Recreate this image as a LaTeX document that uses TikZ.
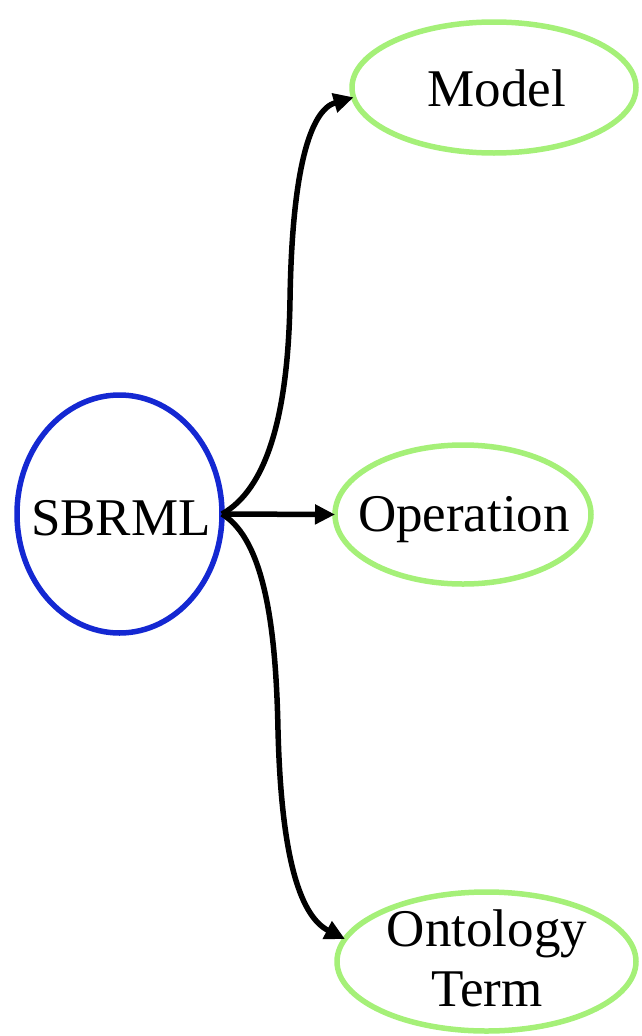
\documentclass[tikz,border=0pt]{standalone}
\usepackage{fontspec}
\setmainfont{Liberation Serif}
\usetikzlibrary{shapes.geometric,arrows.meta}
\definecolor{sbblue}{RGB}{20,40,210}
\definecolor{lgreen}{RGB}{165,240,120}
\tikzset{
  root/.style={ellipse,draw=sbblue,line width=5.5pt,inner sep=0pt,outer sep=0pt},
  leaf/.style={ellipse,draw=lgreen,line width=5.5pt,inner sep=0pt,outer sep=0pt},
  txt/.style={inner sep=0pt,font=\fontsize{53}{60}\selectfont,align=center},
  conn/.style={line width=5.5pt,-{Triangle[length=20pt,width=19pt]}}
}
\begin{document}
\begin{tikzpicture}[x=1pt,y=-1pt]
\useasboundingbox (0,0) rectangle (641,1036);
\node[root,minimum width=205pt,minimum height=238pt] (sbrml) at (119.5,514) {};
\node[txt] (sbrmlt) at (121,518) {SBRML};
\node[leaf,minimum width=284pt,minimum height=131pt] (model) at (494,87.5) {};
\node[txt] (modelt) at (497,88) {Model};
\node[leaf,minimum width=256pt,minimum height=139pt] (op) at (463,514.5) {};
\node[txt] (opt) at (464,520) {Operation};
\node[leaf,minimum width=299pt,minimum height=139pt] (ont) at (486.5,961.5) {};
\node[txt] (ontt) at (487,958) {Ontology\\Term};
\draw[conn] (sbrml.east) .. controls (265,490) and (288,420) .. (290,300)
  .. controls (292,170) and (310,110) .. (model.184);
\draw[conn] (sbrml.east) -- (op.west);
\draw[conn] (sbrml.east) .. controls (265,540) and (276,630) .. (278,730)
  .. controls (281,850) and (298,915) .. (ont.171);
\end{tikzpicture}
\end{document}
